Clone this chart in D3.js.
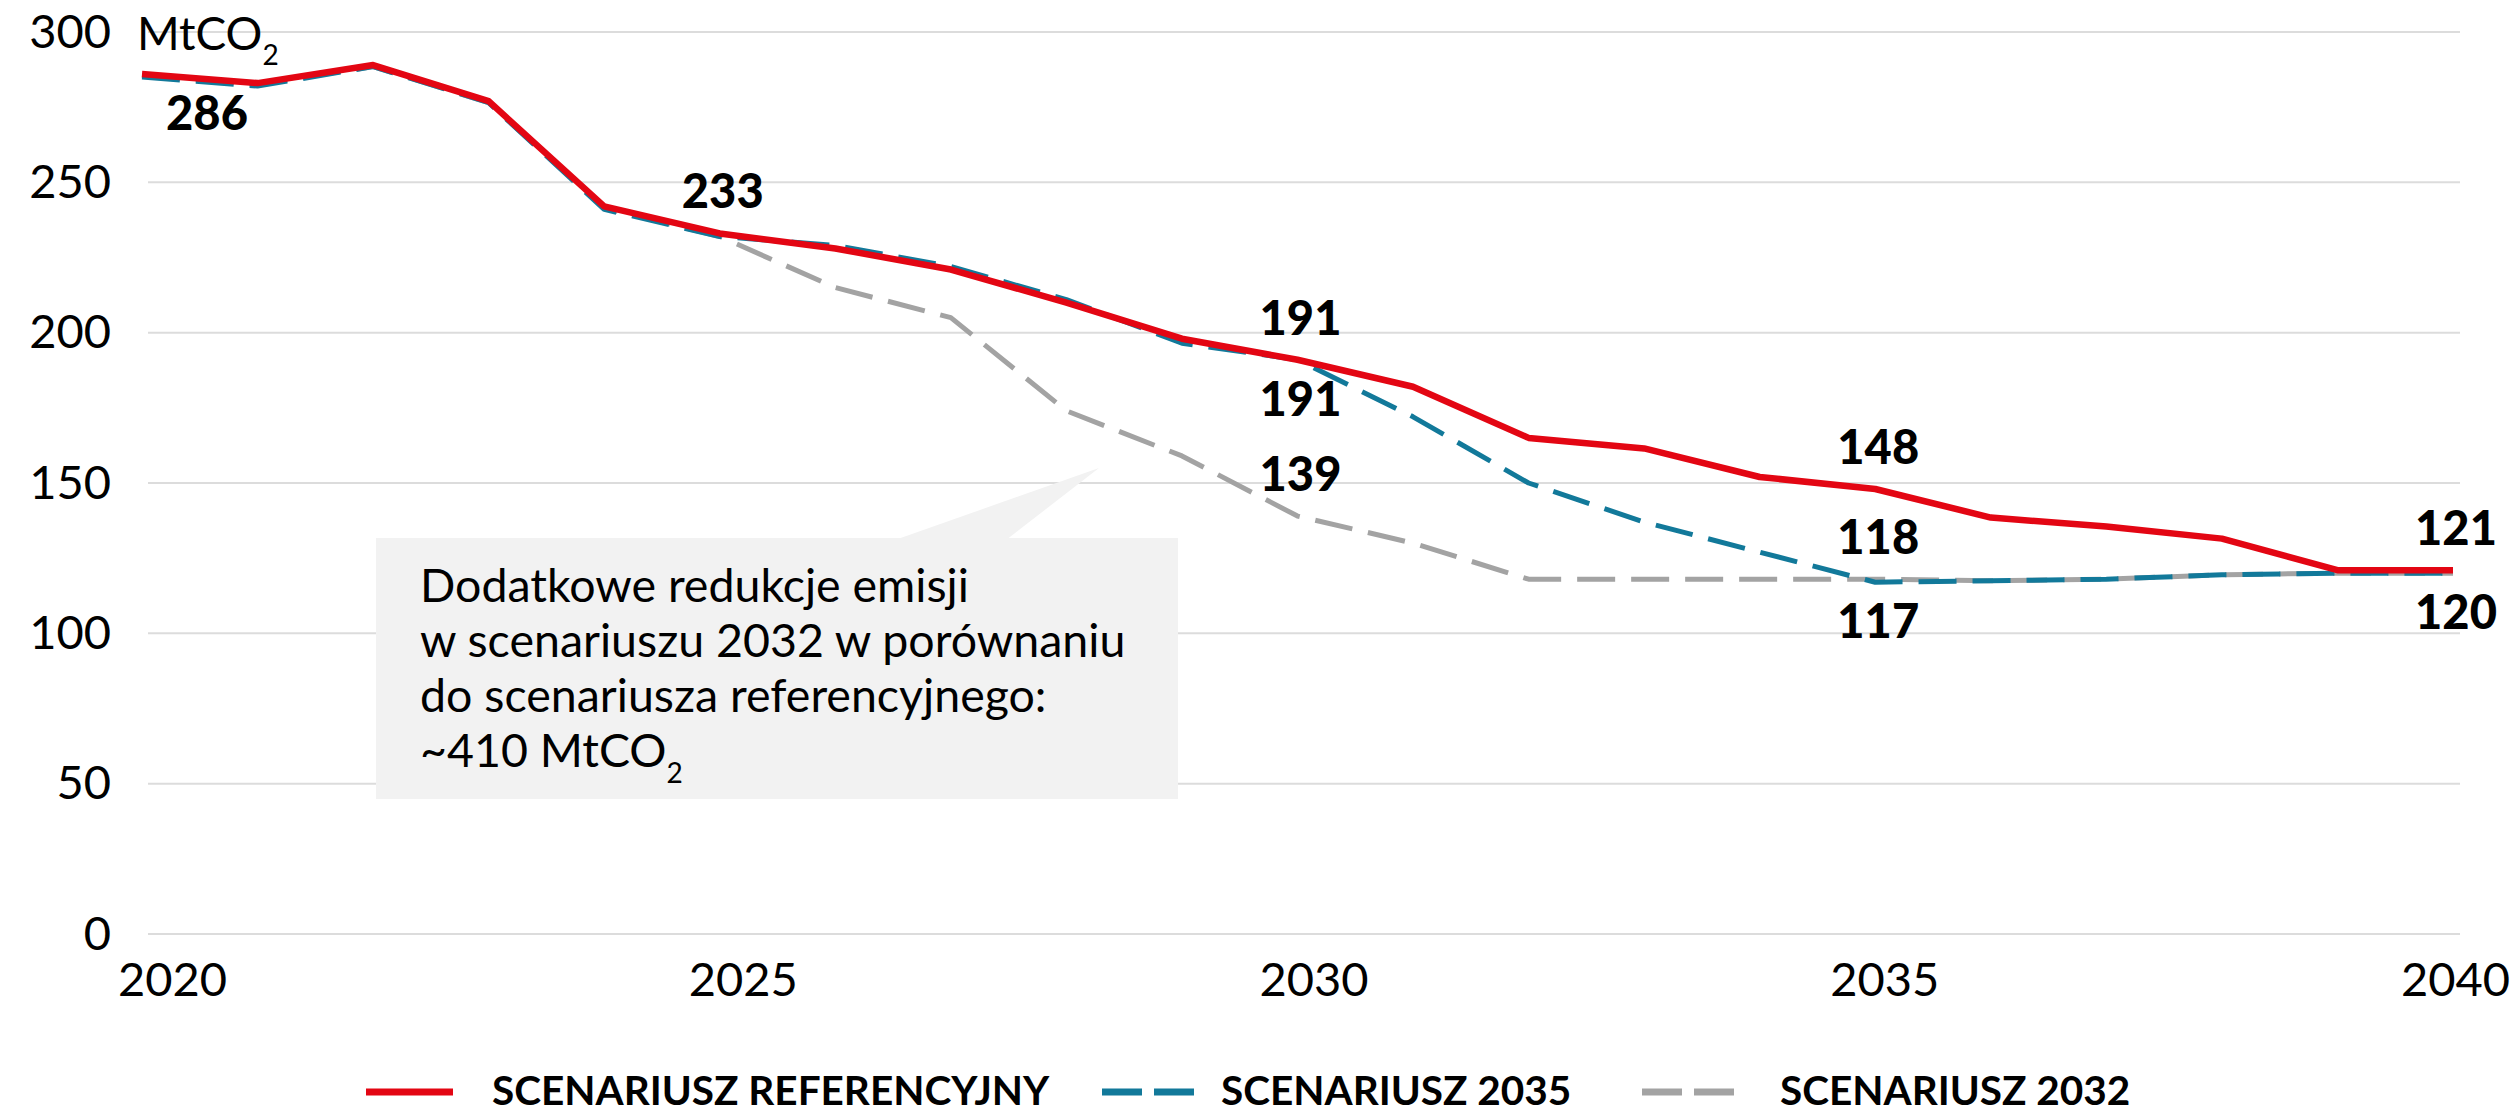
<!DOCTYPE html>
<html>
<head>
<meta charset="utf-8">
<script src="https://cdn.jsdelivr.net/npm/d3@7"></script>
<style>
  html, body { margin: 0; padding: 0; background: #fff; }
  svg { display: block; font-family: Lato, "Noto Sans", sans-serif; }
</style>
</head>
<body>
<script>
// years on the x axis
var years = [2020, 2021, 2022, 2023, 2024, 2025, 2026, 2027, 2028, 2029, 2030,
             2031, 2032, 2033, 2034, 2035, 2036, 2037, 2038, 2039, 2040];

// emissions, MtCO2
var refValues = [286, 283, 289, 277, 242, 233, 228, 221, 210, 198, 191,
                 182, 165, 161.5, 152, 148, 138.5, 135.5, 131.5, 121, 121];
var s2035Values = [285, 282, 288.5, 276.5, 241, 232, 229, 222, 211, 196.5, 191,
                   172, 150, 137, 127, 117, 117.5, 118, 119.5, 120, 120];
var s2032Values = [285.5, 282.5, 288.5, 276.5, 241.5, 232, 215, 205, 174, 159, 139,
                   130, 118, 118, 118, 118, 117.5, 118, 119.5, 120, 120];

var seriesNames = ["SCENARIUSZ REFERENCYJNY", "SCENARIUSZ 2035", "SCENARIUSZ 2032"];
var yTicks = [0, 50, 100, 150, 200, 250, 300];
var xTicks = [2020, 2025, 2030, 2035, 2040];

// which points get a value label
var labelPoints = [
  {s: 0, year: 2020, pos: "below"},
  {s: 0, year: 2025, pos: "above"},
  {s: 0, year: 2030, pos: "above"},
  {s: 1, year: 2030, pos: "below"},
  {s: 2, year: 2030, pos: "above"},
  {s: 0, year: 2035, pos: "above"},
  {s: 2, year: 2035, pos: "above"},
  {s: 1, year: 2035, pos: "below"},
  {s: 0, year: 2040, pos: "above"},
  {s: 1, year: 2040, pos: "below"}
];

var noteLines = ["Dodatkowe redukcje emisji",
                 "w scenariuszu 2032 w porównaniu",
                 "do scenariusza referencyjnego:",
                 "~410 MtCO"];

var W = 2520, H = 1114;
var colors = ["#E30613", "#12799A", "#A3A3A3"];
var series = [refValues, s2035Values, s2032Values];

var svg = d3.select("body").append("svg")
  .attr("width", W)
  .attr("height", H);

var x = d3.scaleLinear().domain([2020, 2040]).range([142, 2453]);
var xLab = d3.scaleLinear().domain([2020, 2040]).range([172, 2455]);   // excel puts the year labels a bit off the points
var y = d3.scaleLinear().domain([0, 300]).range([934, 32]);

// grid
svg.append("g").selectAll("line")
  .data(yTicks)
  .enter().append("line")
    .attr("x1", 148).attr("x2", 2460)
    .attr("y1", function(d){ return y(d); })
    .attr("y2", function(d){ return y(d); })
    .attr("stroke", "#DCDCDC")
    .attr("stroke-width", 2);

// y axis labels
var yAxis = svg.append("g")
  .attr("transform", "translate(111,0)")
  .call(d3.axisLeft(y).tickValues(yTicks).tickSize(0).tickPadding(0));
yAxis.select(".domain").remove();
yAxis.selectAll("text")
  .attr("font-family", "Lato")
  .attr("font-size", 47)
  .attr("fill", "#000");

// x axis labels
var xAxis = svg.append("g")
  .attr("transform", "translate(0,963)")
  .call(d3.axisBottom(xLab).tickValues(xTicks).tickFormat(d3.format("d")).tickSize(0).tickPadding(0));
xAxis.select(".domain").remove();
xAxis.selectAll("text")
  .attr("font-family", "Lato")
  .attr("font-size", 47)
  .attr("fill", "#000");

// unit
var unit = svg.append("text")
  .attr("x", 137).attr("y", 50)
  .attr("font-size", 46)
  .attr("fill", "#000");
unit.append("tspan").text("MtCO");
unit.append("tspan").attr("dy", 15).attr("font-size", 28).text("2");

// annotation box with pointer
svg.append("path")
  .attr("d", "M895,540 L1099,468 L1006,540 Z")
  .attr("fill", "#F2F2F2");
svg.append("rect")
  .attr("x", 376).attr("y", 538)
  .attr("width", 802).attr("height", 261)
  .attr("fill", "#F2F2F2");

var note = svg.append("g");
noteLines.forEach(function(t, i){
  var tx = note.append("text")
    .attr("x", 420)
    .attr("y", 602 + i * 55)
    .attr("font-size", 46.5)
    .attr("fill", "#000");
  tx.append("tspan").text(t);
  if (i == noteLines.length - 1) {
    tx.append("tspan").attr("dy", 16).attr("font-size", 28).text("2");
  }
});

// lines, drawn gray first so red ends on top
var line = d3.line()
  .x(function(d, i){ return x(years[i]); })
  .y(function(d){ return y(d); });

[2, 1, 0].forEach(function(s){
  svg.append("path")
    .datum(series[s])
    .attr("d", line)
    .attr("fill", "none")
    .attr("stroke", colors[s])
    .attr("stroke-width", s == 0 ? 6.5 : 5)
    .attr("stroke-dasharray", s == 0 ? null : "38,16")
    .attr("stroke-linejoin", "round");
});

// value labels
svg.append("g").selectAll("text")
  .data(labelPoints)
  .enter().append("text")
    .attr("x", function(d){
      var px = x(d.year) + 3;
      if (d.year == 2020) px += 62;
      return px;
    })
    .attr("y", function(d){
      var v = series[d.s][years.indexOf(d.year)];
      return y(v) + (d.pos == "above" ? -25 : 56);
    })
    .attr("text-anchor", "middle")
    .attr("font-size", 47)
    .attr("font-weight", 900)
    .attr("fill", "#000")
    .text(function(d){ return d3.format("d")(series[d.s][years.indexOf(d.year)]); });

// legend (kept a few px off the bottom edge)
var legendX = [366, 1102, 1642];
var legend = svg.append("g");
seriesNames.forEach(function(name, i){
  var g = legend.append("g").attr("transform", "translate(" + legendX[i] + ",1092)");
  g.append("line")
    .attr("x1", 0).attr("x2", i == 0 ? 87 : 92)
    .attr("stroke", colors[i])
    .attr("stroke-width", 7)
    .attr("stroke-dasharray", i == 0 ? null : "40,12");
  g.append("text")
    .attr("x", i == 0 ? 126 : (i == 1 ? 119 : 138))
    .attr("y", 13)
    .attr("font-size", 40.5)
    .attr("font-weight", 700)
    .attr("fill", "#000")
    .text(name);
});
</script>
</body>
</html>
